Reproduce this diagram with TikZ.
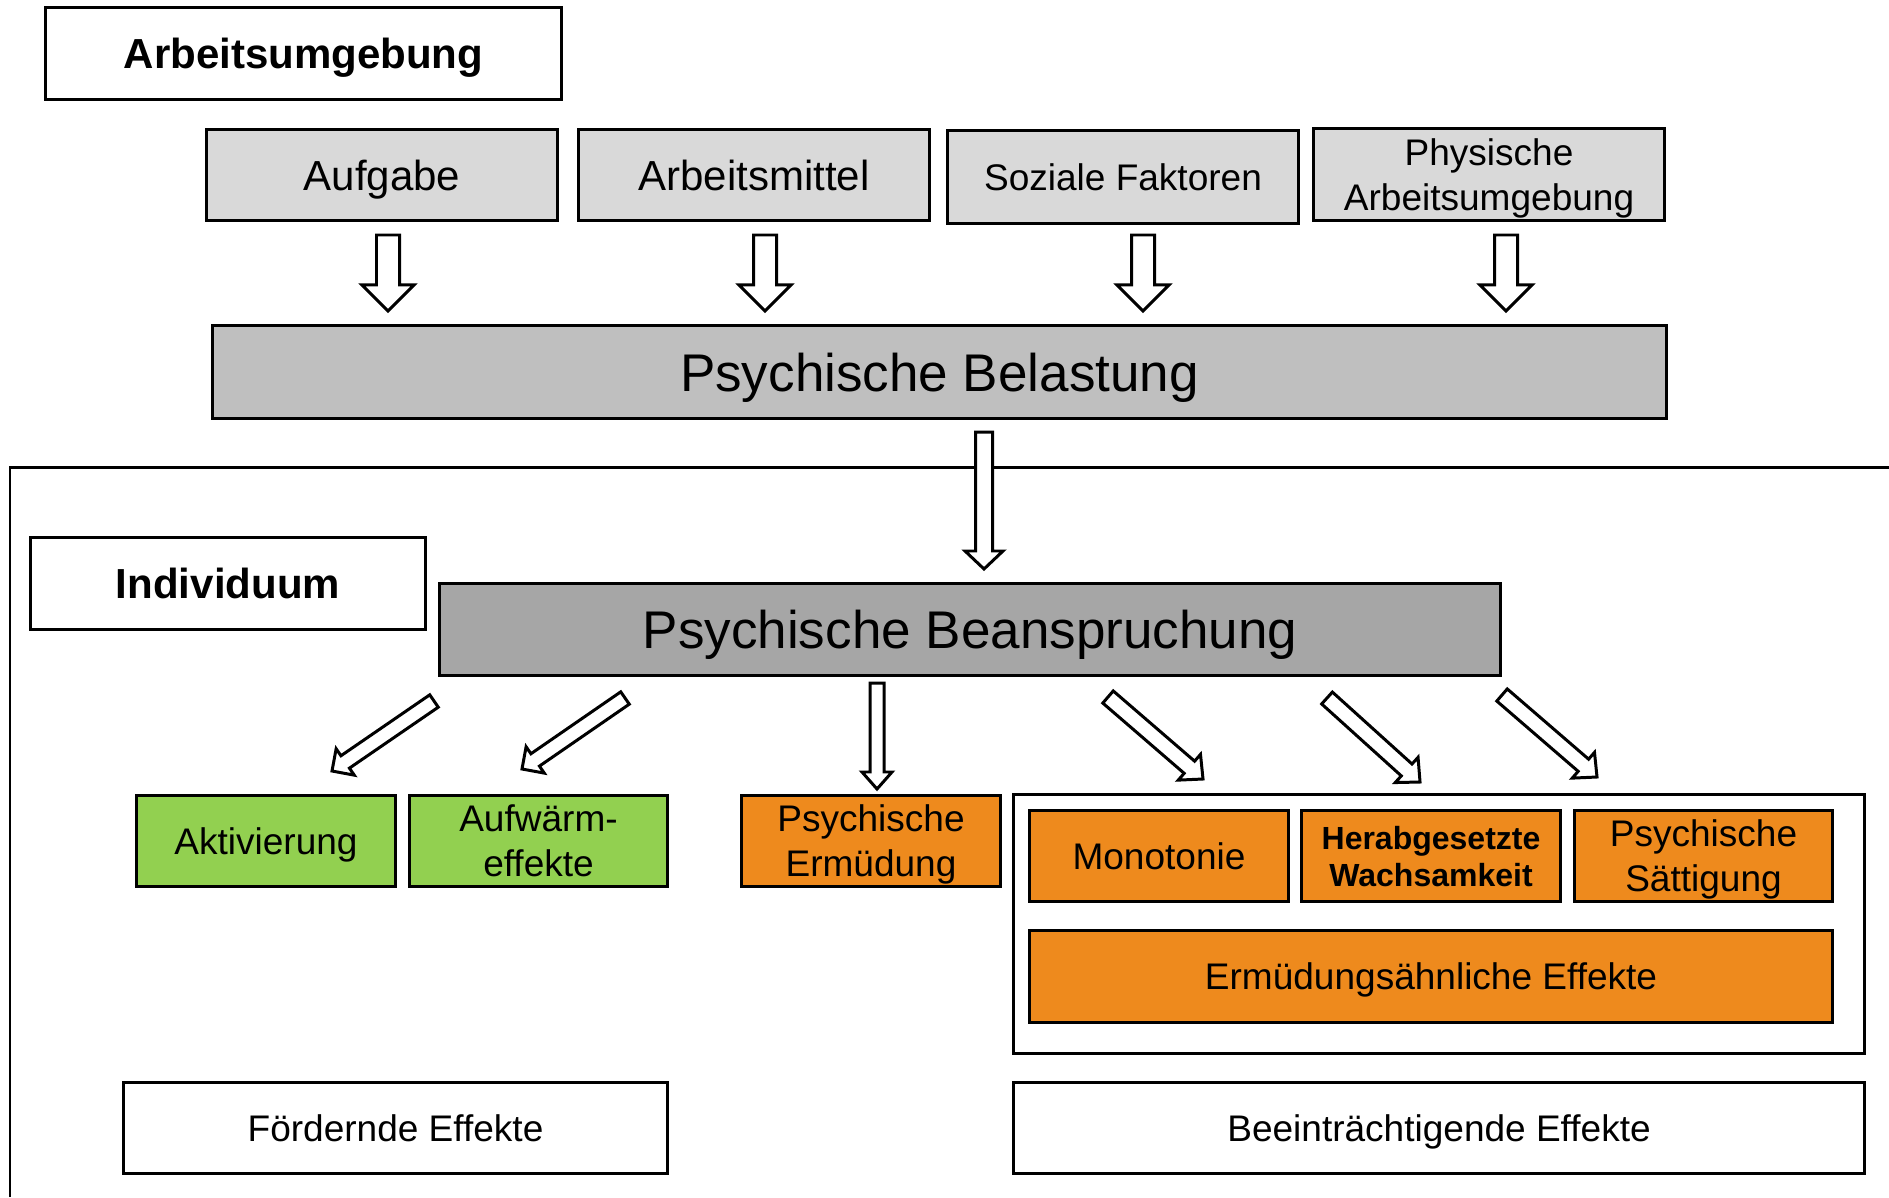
\documentclass[tikz,border=0pt]{standalone}
\usepackage{fontspec}
\setmainfont{Liberation Sans}
\usetikzlibrary{calc}
\definecolor{lgray}{HTML}{D9D9D9}
\definecolor{mgray}{HTML}{BFBFBF}
\definecolor{dgray}{HTML}{A6A6A6}
\definecolor{lgreen}{HTML}{92D050}
\definecolor{orng}{HTML}{EE8A1D}
\newcommand{\fsz}[2]{\fontsize{#1}{#2}\selectfont}
\newcommand{\barrow}[5]{%
  \path ($(#2)!#5!(#1)$) coordinate (hb);
  \draw[blockarrow] ($(#1)!#3!90:(#2)$) -- ($(hb)!#3!-90:(#1)$) -- ($(hb)!#4!-90:(#1)$) -- (#2)
    -- ($(hb)!#4!90:(#1)$) -- ($(hb)!#3!90:(#1)$) -- ($(#1)!#3!-90:(#2)$) -- cycle;}
\tikzset{
  box/.style={draw=black, line width=0.85pt, inner sep=0pt, align=center, text=black, text depth=0pt},
  blockarrow/.style={draw=black, fill=white, line width=0.85pt, line join=miter},
  fbig/.style={font=\fsz{15.08pt}{18pt}},
  fmed/.style={font=\fsz{11.95pt}{14pt}},
  fsml/.style={font=\fsz{10.53pt}{12.8pt}},
  fhead/.style={font=\fsz{11.95pt}{14pt}\bfseries},
  fbsml/.style={font=\fsz{9.1pt}{10.5pt}\bfseries},
  topbox/.style={box, fill=lgray, minimum width=3.5cm, minimum height=0.91cm},
  effbox/.style={box, minimum width=2.58cm, minimum height=0.91cm, fsml},
}
\begin{document}
\begin{tikzpicture}[x=0.01cm, y=-0.01cm]
\useasboundingbox[fill=white] (0,0) rectangle (1889,1197);

% outer frame of the individual
\coordinate (fb) at (10,1197);
\coordinate (fc) at (10,467);
\coordinate (fr) at (1889,467);
\draw[line width=0.85pt] (fb) -- (fc) -- (fr);

% header boxes
\node[box, minimum width=5.15cm, minimum height=0.91cm, fhead] (arb) at (303.5,53.5) {Arbeitsumgebung};
\node[box, minimum width=3.94cm, minimum height=0.91cm, fhead] (indiv) at (228,583.5) {Individuum};

% work environment factors
\node[topbox, fmed] (aufg) at (382,175) {Aufgabe};
\node[topbox, fmed] (amit) at (754,175) {Arbeitsmittel};
\node[topbox, fsml, minimum height=0.92cm] (soz) at (1123,177) {Soziale Faktoren};
\node[topbox, fsml] (phys) at (1489,174.5) {Physische\\Arbeitsumgebung};

% main boxes
\node[box, fill=mgray, minimum width=14.53cm, minimum height=0.92cm, fbig] (bel) at (939.5,372) {Psychische Belastung};
\node[box, fill=dgray, minimum width=10.6cm, minimum height=0.91cm, fbig] (bean) at (970,629.5) {Psychische Beanspruchung};

% effects
\node[effbox, fill=lgreen] (akt) at (266,841) {Aktivierung};
\node[effbox, fill=lgreen, minimum width=2.57cm] (aufw) at (538.5,841) {Aufwärm-\\effekte};
\node[effbox, fill=orng] (erm) at (871,841) {Psychische\\Ermüdung};

\node[box, minimum width=8.5cm, minimum height=2.58cm] (grp) at (1439,924) {};
\node[effbox, fill=orng, minimum height=0.9cm] (mono) at (1159,856) {Monotonie};
\node[effbox, fill=orng, minimum height=0.9cm, fbsml] (herab) at (1431,856) {Herabgesetzte\\Wachsamkeit};
\node[effbox, fill=orng, minimum height=0.9cm, minimum width=2.57cm] (saett) at (1703.5,856) {Psychische\\Sättigung};
\node[effbox, fill=orng, minimum width=8.02cm] (ermae) at (1431,976.5) {Ermüdungsähnliche Effekte};

\node[box, minimum width=5.43cm, minimum height=0.9cm, fsml] (ford) at (395.5,1128) {Fördernde Effekte};
\node[box, minimum width=8.5cm, minimum height=0.9cm, fsml] (beein) at (1439,1128) {Beeinträchtigende Effekte};

% arrow end points
\coordinate (a1s) at (388,235); \coordinate (a1e) at (388,311);
\coordinate (a2s) at (765,235); \coordinate (a2e) at (765,311);
\coordinate (a3s) at (1143,235); \coordinate (a3e) at (1143,311);
\coordinate (a4s) at (1506,235); \coordinate (a4e) at (1506,311);
\coordinate (bs) at (984,432); \coordinate (be) at (984,569);
\coordinate (d1s) at (434,701); \coordinate (d1e) at (332,771);
\coordinate (d2s) at (625,698); \coordinate (d2e) at (522,769);
\coordinate (vs) at (877,683); \coordinate (ve) at (877,789);
\coordinate (r1s) at (1108,697); \coordinate (r1e) at (1203,779);
\coordinate (r2s) at (1327,698); \coordinate (r2e) at (1420,782);
\coordinate (r3s) at (1502,695); \coordinate (r3e) at (1597,777);

% block arrows
\barrow{a1s}{a1e}{0.115cm}{0.26cm}{0.26cm}
\barrow{a2s}{a2e}{0.115cm}{0.26cm}{0.26cm}
\barrow{a3s}{a3e}{0.115cm}{0.26cm}{0.26cm}
\barrow{a4s}{a4e}{0.115cm}{0.26cm}{0.26cm}
\barrow{bs}{be}{0.085cm}{0.19cm}{0.18cm}
\barrow{d1s}{d1e}{0.075cm}{0.16cm}{0.16cm}
\barrow{d2s}{d2e}{0.075cm}{0.16cm}{0.16cm}
\barrow{vs}{ve}{0.07cm}{0.15cm}{0.17cm}
\barrow{r1s}{r1e}{0.08cm}{0.17cm}{0.18cm}
\barrow{r2s}{r2e}{0.08cm}{0.17cm}{0.18cm}
\barrow{r3s}{r3e}{0.08cm}{0.17cm}{0.18cm}
\end{tikzpicture}
\end{document}
